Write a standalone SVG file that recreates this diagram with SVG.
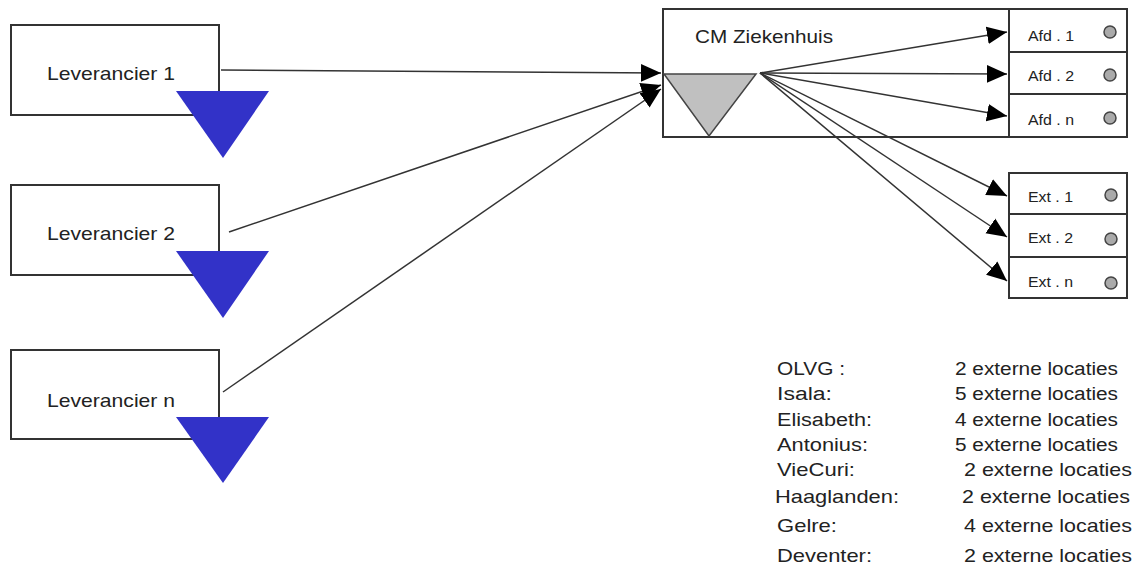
<svg xmlns="http://www.w3.org/2000/svg" width="1143" height="565" viewBox="0 0 1143 565">
<defs>
<style>
text{font-family:"Liberation Sans",Arial,sans-serif;fill:#222}
.box{fill:#fff;stroke:#333;stroke-width:2}
.tri{fill:#3232c8;stroke:none}
.ln{stroke:#333;stroke-width:1.5;fill:none}
.dot{fill:#aaa;stroke:#444;stroke-width:1.5}
.lbl{font-size:19px}
.sm{font-size:14px}
.lgA{font-size:18px}
.lgB{font-size:19px}
</style>
<marker id="ahb" viewBox="0 0 10 10" refX="10" refY="5" markerWidth="20" markerHeight="20" markerUnits="userSpaceOnUse" orient="auto"><path d="M0,0.6 L10,5 L0,9.4 z" fill="#000"/></marker>
</defs>
<g id="lev1"><rect class="box" x="11" y="25" width="208" height="90"/><text class="lbl" x="47" y="80" textLength="128" lengthAdjust="spacingAndGlyphs">Leverancier 1</text><polygon class="tri" points="176,91 269,91 223,158"/></g>
<g id="lev2"><rect class="box" x="11" y="185" width="208" height="90"/><text class="lbl" x="47" y="240" textLength="128" lengthAdjust="spacingAndGlyphs">Leverancier 2</text><polygon class="tri" points="176,251 269,251 223,318"/></g>
<g id="levn"><rect class="box" x="11" y="350" width="208" height="89"/><text class="lbl" x="47" y="407" textLength="128" lengthAdjust="spacingAndGlyphs">Leverancier n</text><polygon class="tri" points="176,417 269,417 223,483"/></g>
<g id="cm"><rect class="box" x="663" y="9" width="464" height="128"/><line class="ln" x1="1009" y1="9" x2="1009" y2="137"/><text class="lbl" x="695" y="43" textLength="138" lengthAdjust="spacingAndGlyphs">CM Ziekenhuis</text><polygon points="664,74 756,74 709,136" fill="#c0c0c0" stroke="#444" stroke-width="1.5"/></g>
<g id="afd1"><rect class="box" x="1009" y="9" width="118" height="43"/><text class="sm" x="1028" y="41" textLength="46" lengthAdjust="spacingAndGlyphs">Afd . 1</text><circle class="dot" cx="1110" cy="32" r="6"/></g>
<g id="afd2"><rect class="box" x="1009" y="52" width="118" height="42"/><text class="sm" x="1028" y="81" textLength="46" lengthAdjust="spacingAndGlyphs">Afd . 2</text><circle class="dot" cx="1110" cy="75" r="6"/></g>
<g id="afdn"><rect class="box" x="1009" y="94" width="118" height="43"/><text class="sm" x="1028" y="125" textLength="46" lengthAdjust="spacingAndGlyphs">Afd . n</text><circle class="dot" cx="1110" cy="118" r="6"/></g>
<g id="ext1"><rect class="box" x="1009" y="173" width="118" height="41"/><text class="sm" x="1028" y="202" textLength="45" lengthAdjust="spacingAndGlyphs">Ext . 1</text><circle class="dot" cx="1111" cy="195" r="6"/></g>
<g id="ext2"><rect class="box" x="1009" y="214" width="118" height="43"/><text class="sm" x="1028" y="243" textLength="45" lengthAdjust="spacingAndGlyphs">Ext . 2</text><circle class="dot" cx="1111" cy="239" r="6"/></g>
<g id="extn"><rect class="box" x="1009" y="257" width="118" height="41"/><text class="sm" x="1028" y="287" textLength="45" lengthAdjust="spacingAndGlyphs">Ext . n</text><circle class="dot" cx="1111" cy="283" r="6"/></g>
<g id="connectors">
<line class="ln" x1="221" y1="70" x2="661" y2="73" marker-end="url(#ahb)"/>
<line class="ln" x1="229" y1="232" x2="661" y2="85" marker-end="url(#ahb)"/>
<line class="ln" x1="223" y1="392" x2="661" y2="89" marker-end="url(#ahb)"/>
<line class="ln" x1="760" y1="73" x2="1007" y2="32" marker-end="url(#ahb)"/>
<line class="ln" x1="760" y1="73" x2="1007" y2="74" marker-end="url(#ahb)"/>
<line class="ln" x1="760" y1="73" x2="1007" y2="116" marker-end="url(#ahb)"/>
<line class="ln" x1="760" y1="73" x2="1007" y2="196" marker-end="url(#ahb)"/>
<line class="ln" x1="760" y1="73" x2="1007" y2="237" marker-end="url(#ahb)"/>
<line class="ln" x1="760" y1="73" x2="1007" y2="281" marker-end="url(#ahb)"/>
</g>
<g id="legend">
<text class="lgA" x="777" y="375" textLength="68" lengthAdjust="spacingAndGlyphs">OLVG :</text><text class="lgA" x="955" y="375" textLength="163" lengthAdjust="spacingAndGlyphs">2 externe locaties</text>
<text class="lgA" x="777" y="400" textLength="55" lengthAdjust="spacingAndGlyphs">Isala:</text><text class="lgA" x="955" y="400" textLength="163" lengthAdjust="spacingAndGlyphs">5 externe locaties</text>
<text class="lgA" x="777" y="426" textLength="95" lengthAdjust="spacingAndGlyphs">Elisabeth:</text><text class="lgA" x="955" y="426" textLength="163" lengthAdjust="spacingAndGlyphs">4 externe locaties</text>
<text class="lgA" x="777" y="451" textLength="91" lengthAdjust="spacingAndGlyphs">Antonius:</text><text class="lgA" x="955" y="451" textLength="163" lengthAdjust="spacingAndGlyphs">5 externe locaties</text>
<text class="lgB" x="777" y="476" textLength="78" lengthAdjust="spacingAndGlyphs">VieCuri:</text><text class="lgB" x="964" y="476" textLength="168" lengthAdjust="spacingAndGlyphs">2 externe locaties</text>
<text class="lgB" x="775" y="503" textLength="124" lengthAdjust="spacingAndGlyphs">Haaglanden:</text><text class="lgB" x="962" y="503" textLength="168" lengthAdjust="spacingAndGlyphs">2 externe locaties</text>
<text class="lgB" x="777" y="532" textLength="60" lengthAdjust="spacingAndGlyphs">Gelre:</text><text class="lgB" x="964" y="532" textLength="168" lengthAdjust="spacingAndGlyphs">4 externe locaties</text>
<text class="lgB" x="777" y="562" textLength="95" lengthAdjust="spacingAndGlyphs">Deventer:</text><text class="lgB" x="964" y="562" textLength="168" lengthAdjust="spacingAndGlyphs">2 externe locaties</text>
</g>
</svg>
